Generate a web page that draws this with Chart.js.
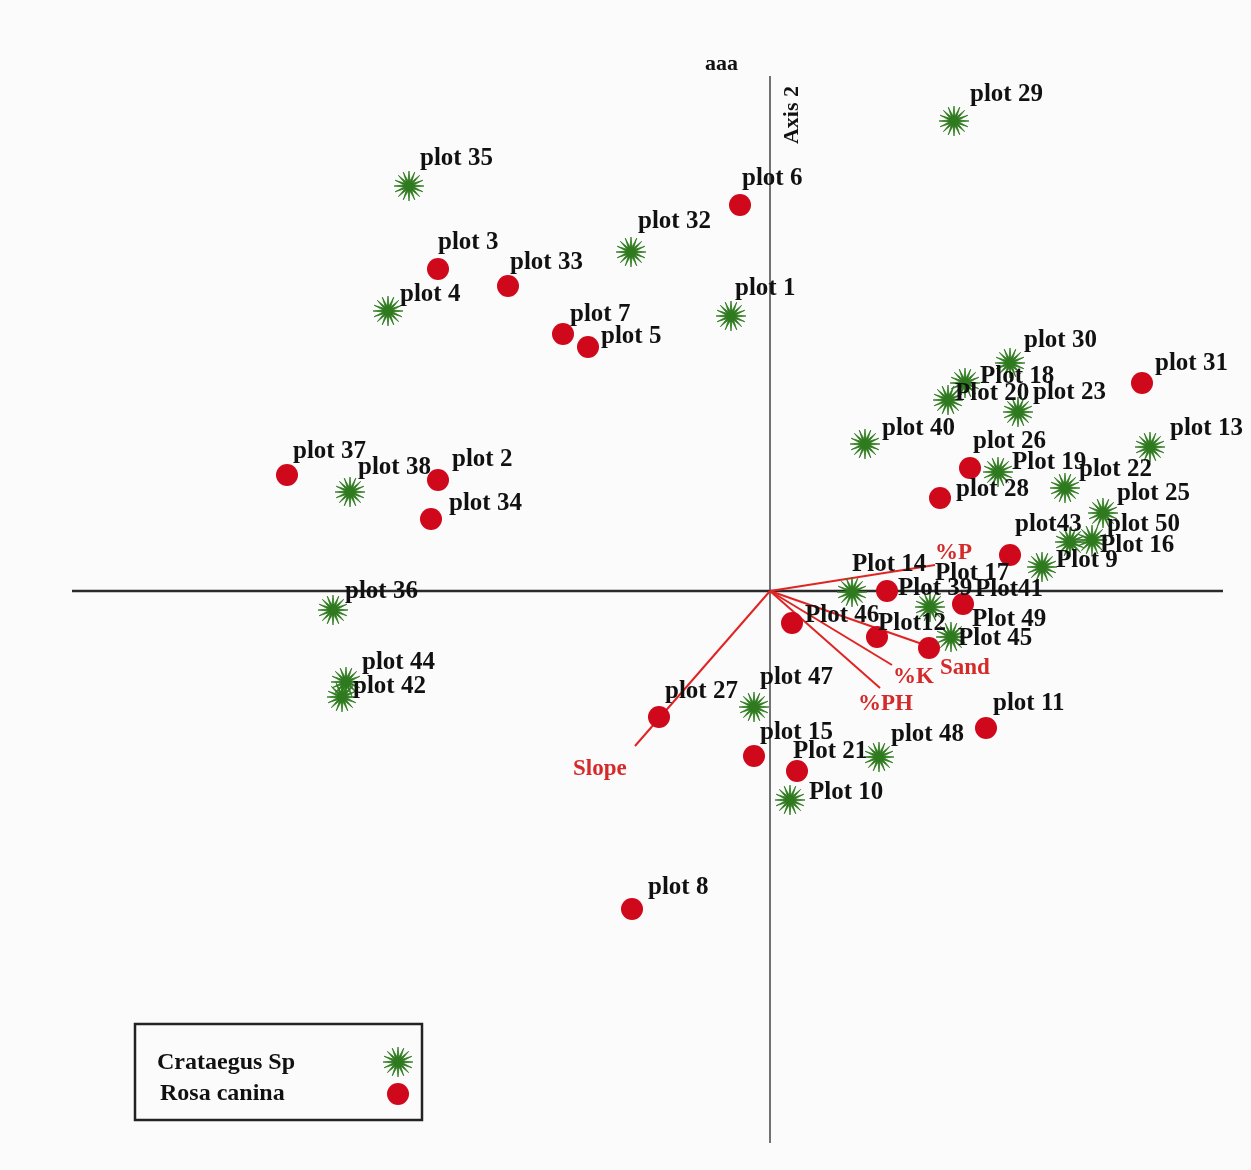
<!DOCTYPE html>
<html>
<head>
<meta charset="utf-8">
<script src="https://cdn.jsdelivr.net/npm/chart.js@4.4.1/dist/chart.umd.min.js"></script>
<style>
  html, body { margin: 0; padding: 0; background: #fbfbfb; }
  #wrap { width: 1251px; height: 1170px; position: relative; }
</style>
</head>
<body>
<div id="wrap"><canvas id="ordination"></canvas></div>
<script>
// site scores on Axis 1 / Axis 2
const crataegusLabels = ["plot 35", "plot 4", "plot 32", "plot 1", "plot 29", "plot 38", "plot 36", "plot 44", "plot 42",
  "plot 30", "Plot 18", "Plot 20", "plot 23", "plot 40", "plot 13", "Plot 19", "plot 22", "plot 25", "plot 50",
  "Plot 16", "Plot 9", "Plot 14", "Plot 39", "Plot 45", "plot 47", "plot 48", "Plot 10"];
const crataegusX = [-3.61, -3.82, -1.39, -0.39, 1.84, -4.20, -4.37, -4.24, -4.28,
  2.40, 1.95, 1.78, 2.48, 0.95, 3.80, 2.28, 2.95, 3.33, 3.22,
  3.00, 2.72, 0.82, 1.60, 1.81, -0.16, 1.09, 0.20];
const crataegusY = [4.05, 2.80, 3.39, 2.75, 4.70, 0.99, -0.19, -0.91, -1.06,
  2.28, 2.08, 1.91, 1.79, 1.47, 1.44, 1.19, 1.03, 0.78, 0.51,
  0.49, 0.24, -0.01, -0.16, -0.46, -1.16, -1.66, -2.09];

const rosaLabels = ["plot 6", "plot 3", "plot 33", "plot 7", "plot 5", "plot 37", "plot 2", "plot 34", "plot 31",
  "plot 26", "plot 28", "plot43", "Plot 17", "Plot41", "Plot 46", "Plot12", "Plot 49", "plot 27", "plot 15",
  "Plot 21", "plot 11", "plot 8"];
const rosaX = [-0.30, -3.32, -2.62, -2.07, -1.82, -4.83, -3.32, -3.39, 3.72,
  2.00, 1.70, 2.40, 1.17, 1.93, 0.22, 1.07, 1.59, -1.11, -0.16,
  0.27, 2.16, -1.38];
const rosaY = [3.86, 3.22, 3.05, 2.57, 2.44, 1.16, 1.11, 0.72, 2.08,
  1.23, 0.93, 0.36, 0.00, -0.13, -0.32, -0.46, -0.57, -1.26, -1.65,
  -1.80, -1.37, -3.18];

// environmental vectors (arrow tips)
const vectorLabels = ["%P", "Sand", "%K", "%PH", "Slope"];
const vectorX = [1.65, 1.55, 1.22, 1.10, -1.35];
const vectorY = [0.26, -0.54, -0.74, -0.97, -1.55];

// extent of the drawn axis lines
const axis1Range = [-6.98, 4.53];
const axis2Range = [-5.52, 5.15];

// label nudges in px (left edge / vertical middle, relative to the mark)
const labelOffset = {
  "plot 35": [11, -27], "plot 4": [12, -16], "plot 32": [7, -30], "plot 1": [4, -27], "plot 29": [16, -26],
  "plot 38": [8, -24], "plot 36": [12, -18], "plot 44": [16, -19], "plot 42": [11, -10], "plot 30": [14, -22],
  "Plot 18": [15, -6], "Plot 20": [7, -6], "plot 23": [15, -19], "plot 40": [17, -15], "plot 13": [20, -18],
  "Plot 19": [14, -9], "plot 22": [14, -18], "plot 25": [14, -19], "plot 50": [15, -15], "Plot 16": [30, 4],
  "Plot 9": [14, -6], "Plot 14": [0, -27], "Plot 39": [-32, -18], "Plot 45": [7, 2], "plot 47": [6, -29],
  "plot 48": [12, -22], "Plot 10": [19, -7],
  "plot 6": [2, -26], "plot 3": [0, -26], "plot 33": [2, -23], "plot 7": [7, -19], "plot 5": [13, -10],
  "plot 37": [6, -23], "plot 2": [14, -20], "plot 34": [18, -15], "plot 31": [13, -19], "plot 26": [3, -26],
  "plot 28": [16, -8], "plot43": [5, -30], "Plot 17": [48, -17], "Plot41": [12, -14], "Plot 46": [13, -7],
  "Plot12": [1, -13], "Plot 49": [43, -28], "plot 27": [6, -25], "plot 15": [6, -23], "Plot 21": [-4, -19],
  "plot 11": [7, -24], "plot 8": [16, -21],
  "%P": [0, -12], "Sand": [15, 23], "%K": [1, 12], "%PH": [-22, 16], "Slope": [-62, 23]
};

const GREEN = "#2f7a1e";
const RED = "#d0081b";
const VEC = "#e02424";
const SERIF = "'Liberation Serif', 'Times New Roman', serif";

// starburst marker for Crataegus
function makeStar() {
  const c = document.createElement("canvas");
  c.width = 32; c.height = 32;
  const g = c.getContext("2d");
  const n = 16, ro = 15, ri = 5;
  g.beginPath();
  for (let i = 0; i < n * 2; i++) {
    const r = i % 2 === 0 ? ro : ri;
    const a = (Math.PI * i) / n;
    const px = 16 + r * Math.cos(a), py = 16 + r * Math.sin(a);
    if (i === 0) g.moveTo(px, py); else g.lineTo(px, py);
  }
  g.closePath();
  g.fillStyle = GREEN;
  g.fill();
  g.strokeStyle = GREEN;
  g.lineWidth = 0.8;
  g.stroke();
  return c;
}
const starImg = makeStar();

const toPts = (xs, ys) => xs.map((x, i) => ({ x: x, y: ys[i] }));

const vectorSets = vectorLabels.map((name, i) => ({
  type: "line",
  label: name,
  data: [{ x: 0, y: 0 }, { x: vectorX[i], y: vectorY[i] }],
  borderColor: VEC,
  borderWidth: 2,
  pointRadius: 0,
  order: 2
}));

const labelPlugin = {
  id: "labels",
  afterDatasetsDraw(chart) {
    const ctx = chart.ctx;
    ctx.save();
    ctx.textBaseline = "middle";
    ctx.textAlign = "left";

    // site labels
    ctx.font = "bold 25px " + SERIF;
    ctx.fillStyle = "#111";
    [[0, crataegusLabels], [1, rosaLabels]].forEach(([di, names]) => {
      chart.getDatasetMeta(di).data.forEach((el, i) => {
        const off = labelOffset[names[i]] || [10, -22];
        ctx.fillText(names[i], el.x + off[0], el.y + off[1]);
      });
    });

    // vector labels
    ctx.font = "bold 23px " + SERIF;
    ctx.fillStyle = "#d42a2a";
    vectorLabels.forEach((name, i) => {
      const tip = chart.getDatasetMeta(2 + i).data[1];
      const off = labelOffset[name];
      ctx.fillText(name, tip.x + off[0], tip.y + off[1]);
    });

    // top texts
    ctx.fillStyle = "#111";
    ctx.font = "bold 22px " + SERIF;
    ctx.fillText("aaa", 705, 64);
    const xs = chart.scales.x;
    ctx.save();
    ctx.translate(xs.getPixelForValue(0) + 22, 115);
    ctx.rotate(-Math.PI / 2);
    ctx.textAlign = "center";
    ctx.fillText("Axis 2", 0, 0);
    ctx.restore();

    // legend box
    ctx.strokeStyle = "#222";
    ctx.lineWidth = 2.5;
    ctx.strokeRect(135, 1024, 287, 96);
    ctx.font = "bold 24px " + SERIF;
    ctx.fillStyle = "#111";
    ctx.fillText("Crataegus Sp", 157, 1063);
    ctx.fillText("Rosa canina", 160, 1094);
    ctx.drawImage(starImg, 398 - 16, 1062 - 16);
    ctx.beginPath();
    ctx.arc(398, 1094, 11, 0, Math.PI * 2);
    ctx.fillStyle = RED;
    ctx.fill();
    ctx.restore();
  }
};

const ctx = document.getElementById("ordination").getContext("2d");
new Chart(ctx, {
  type: "scatter",
  data: {
    datasets: [
      {
        label: "Crataegus Sp",
        data: toPts(crataegusX, crataegusY),
        pointStyle: starImg,
        pointRadius: 15,
        order: 0
      },
      {
        label: "Rosa canina",
        data: toPts(rosaX, rosaY),
        pointStyle: "circle",
        pointRadius: 11,
        backgroundColor: RED,
        borderColor: RED,
        borderWidth: 0,
        order: 0
      },
      ...vectorSets,
      {
        type: "line",
        label: "Axis 1",
        data: [{ x: axis1Range[0], y: 0 }, { x: axis1Range[1], y: 0 }],
        borderColor: "#2a2a2a",
        borderWidth: 2.5,
        pointRadius: 0,
        order: 3
      },
      {
        type: "line",
        label: "Axis 2",
        data: [{ x: 0, y: axis2Range[0] }, { x: 0, y: axis2Range[1] }],
        borderColor: "#444",
        borderWidth: 1.5,
        pointRadius: 0,
        order: 3
      }
    ]
  },
  options: {
    responsive: true,
    maintainAspectRatio: false,
    animation: false,
    layout: { padding: 0, autoPadding: false },
    plugins: {
      legend: { display: false },
      tooltip: { enabled: false }
    },
    scales: {
      x: { type: "linear", min: -7.70, max: 4.81, display: false },
      y: { type: "linear", min: -5.79, max: 5.91, display: false }
    }
  },
  plugins: [labelPlugin]
});
</script>
</body>
</html>
